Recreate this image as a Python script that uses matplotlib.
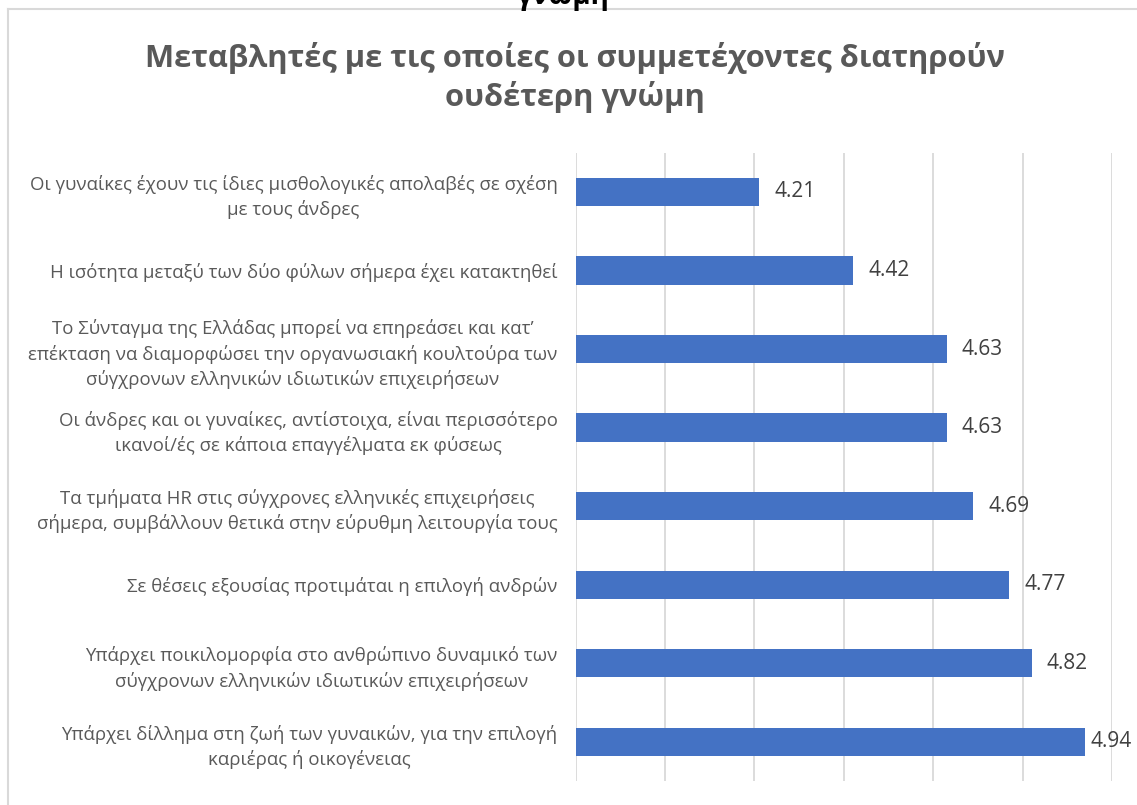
import matplotlib.pyplot as plt
from matplotlib.lines import Line2D

# data
labels = [
    "Οι γυναίκες έχουν τις ίδιες μισθολογικές απολαβές σε σχέση\nμε τους άνδρες",
    "Η ισότητα μεταξύ των δύο φύλων σήμερα έχει κατακτηθεί",
    "Το Σύνταγμα της Ελλάδας μπορεί να επηρεάσει και κατ’\nεπέκταση να διαμορφώσει την οργανωσιακή κουλτούρα των\nσύγχρονων ελληνικών ιδιωτικών επιχειρήσεων",
    "Οι άνδρες και οι γυναίκες, αντίστοιχα, είναι περισσότερο\nικανοί/ές σε κάποια επαγγέλματα εκ φύσεως",
    "Τα τμήματα HR στις σύγχρονες ελληνικές επιχειρήσεις\nσήμερα, συμβάλλουν θετικά στην εύρυθμη λειτουργία τους",
    "Σε θέσεις εξουσίας προτιμάται η επιλογή ανδρών",
    "Υπάρχει ποικιλομορφία στο ανθρώπινο δυναμικό των\nσύγχρονων ελληνικών ιδιωτικών επιχειρήσεων",
    "Υπάρχει δίλλημα στη ζωή των γυναικών, για την επιλογή\nκαριέρας ή οικογένειας",
]
values = [4.21, 4.42, 4.63, 4.63, 4.69, 4.77, 4.82, 4.94]
title = "Μεταβλητές με τις οποίες οι συμμετέχοντες διατηρούν\nουδέτερη γνώμη"

plt.rcParams['font.family'] = ['Open Sans', 'DejaVu Sans']

fig = plt.figure(figsize=(11.37, 8.05), dpi=100)
ax = fig.add_axes([0.5062, 0.0298, 0.4719, 0.7805])

ypos = list(range(len(values)))
ax.barh(ypos, values, height=0.36, color="#4472c4", zorder=3)
ax.set_xlim(3.8, 5.0)
ax.set_ylim(len(values) - 0.5, -0.5)

ax.set_xticks([3.8, 4.0, 4.2, 4.4, 4.6, 4.8, 5.0])
ax.set_xticklabels([])
ax.grid(axis="x", color="#d9d9d9", linewidth=1.3, zorder=0)
ax.tick_params(axis="both", length=0)
for s in ax.spines.values():
    s.set_visible(False)

ax.set_yticks(ypos)
ax.set_yticklabels(labels, fontsize=13.4, color="#595959",
                   multialignment="center", linespacing=1.42)
ax.tick_params(axis="y", pad=13)

# value labels; the last one is pulled in so it stays inside the chart
for y, v in zip(ypos, values):
    off = 4 if v > 4.9 else 11
    ax.annotate(f"{v:.2f}", (v, y), xytext=(off, 0), textcoords="offset points",
                va="center", ha="left", fontsize=15, color="#404040",
                annotation_clip=False)

fig.text(0.506, 0.904, title, ha="center", va="center", fontsize=22.2,
         fontweight="bold", color="#595959", linespacing=1.3)

# clipped remnant of an old title at the very top
fig.text(563 / 1137, 1 - 4 / 805, "γνώμη", ha="center", va="baseline",
         fontsize=20, fontweight="bold", color="black")

# chart border (left and top)
fig.add_artist(Line2D([8 / 1137, 8 / 1137], [0, 1 - 9 / 805], color="#d9d9d9",
                      linewidth=1.5, transform=fig.transFigure))
fig.add_artist(Line2D([8 / 1137, 1], [1 - 9 / 805, 1 - 9 / 805], color="#d9d9d9",
                      linewidth=1.5, transform=fig.transFigure))

fig.savefig("out.png", dpi=100)
